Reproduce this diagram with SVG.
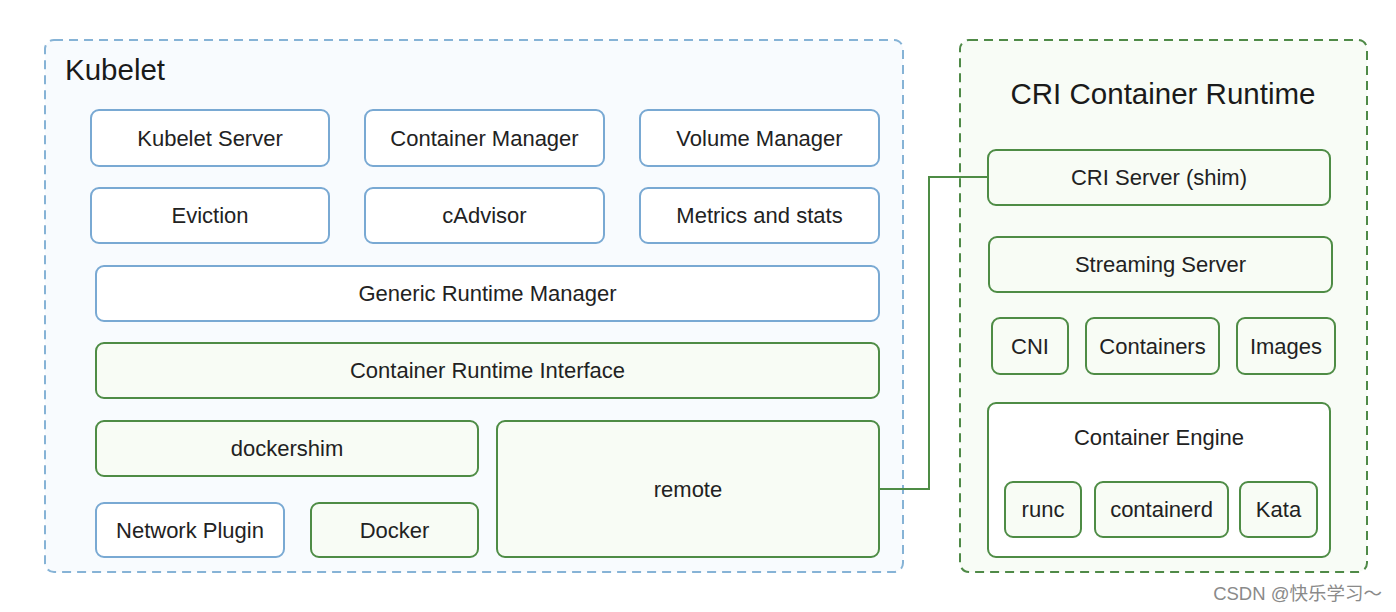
<svg xmlns="http://www.w3.org/2000/svg" width="1396" height="612" viewBox="0 0 1396 612">
<style>
.outer-b{fill:#f8fbfe;stroke:#86b3d6;stroke-width:2;stroke-dasharray:9 6}
.outer-g{fill:#f8fcf6;stroke:#4f8a47;stroke-width:2;stroke-dasharray:9 6}
.nb{fill:#ffffff;stroke:#79a9d3;stroke-width:2}
.ng{fill:#f8fcf5;stroke:#4e8c45;stroke-width:2}
.lbl{font-family:"Liberation Sans",Arial,sans-serif;font-size:22px;fill:#222;text-anchor:middle;dominant-baseline:central}
.title{font-family:"Liberation Sans",Arial,sans-serif;font-size:29.5px;fill:#1a1a1a}
.conn{fill:none;stroke:#4e8c45;stroke-width:2}
</style>
<rect width="1396" height="612" fill="#ffffff"/>
<g id="kubelet">
<rect class="outer-b" x="45" y="40" width="858" height="532" rx="9"/>
<text class="title" x="65" y="80">Kubelet</text>
</g>
<g id="cri-runtime">
<rect class="outer-g" x="960" y="40" width="407" height="532" rx="9"/>
<text class="title" x="1163" y="104" text-anchor="middle">CRI Container Runtime</text>
</g>
<g id="kubelet-server"><rect class="nb" x="91" y="110" width="238" height="56" rx="8"/><text class="lbl" x="210" y="138">Kubelet Server</text></g>
<g id="container-manager"><rect class="nb" x="365" y="110" width="239" height="56" rx="8"/><text class="lbl" x="484.5" y="138">Container Manager</text></g>
<g id="volume-manager"><rect class="nb" x="640" y="110" width="239" height="56" rx="8"/><text class="lbl" x="759.5" y="138">Volume Manager</text></g>
<g id="eviction"><rect class="nb" x="91" y="188" width="238" height="55" rx="8"/><text class="lbl" x="210" y="215.5">Eviction</text></g>
<g id="cadvisor"><rect class="nb" x="365" y="188" width="239" height="55" rx="8"/><text class="lbl" x="484.5" y="215.5">cAdvisor</text></g>
<g id="metrics"><rect class="nb" x="640" y="188" width="239" height="55" rx="8"/><text class="lbl" x="759.5" y="215.5">Metrics and stats</text></g>
<g id="generic-runtime-manager"><rect class="nb" x="96" y="266" width="783" height="55" rx="8"/><text class="lbl" x="487.5" y="293.5">Generic Runtime Manager</text></g>
<g id="cri"><rect class="ng" x="96" y="343" width="783" height="55" rx="8"/><text class="lbl" x="487.5" y="370.5">Container Runtime Interface</text></g>
<g id="dockershim"><rect class="ng" x="96" y="421" width="382" height="55" rx="8"/><text class="lbl" x="287" y="448.5">dockershim</text></g>
<g id="remote"><rect class="ng" x="497" y="421" width="382" height="136" rx="8"/><text class="lbl" x="688" y="489">remote</text></g>
<g id="network-plugin"><rect class="nb" x="96" y="503" width="188" height="54" rx="8"/><text class="lbl" x="190" y="530">Network Plugin</text></g>
<g id="docker"><rect class="ng" x="311" y="503" width="167" height="54" rx="8"/><text class="lbl" x="394.5" y="530">Docker</text></g>
<g id="cri-server"><rect class="ng" x="988" y="150" width="342" height="55" rx="8"/><text class="lbl" x="1159" y="177.5">CRI Server (shim)</text></g>
<g id="streaming-server"><rect class="ng" x="989" y="237" width="343" height="55" rx="8"/><text class="lbl" x="1160.5" y="264.5">Streaming Server</text></g>
<g id="cni"><rect class="ng" x="992" y="318" width="76" height="56" rx="8"/><text class="lbl" x="1030" y="346">CNI</text></g>
<g id="containers"><rect class="ng" x="1086" y="318" width="133" height="56" rx="8"/><text class="lbl" x="1152.5" y="346">Containers</text></g>
<g id="images"><rect class="ng" x="1237" y="318" width="98" height="56" rx="8"/><text class="lbl" x="1286" y="346">Images</text></g>
<g id="container-engine"><rect class="ng" x="988" y="403" width="342" height="154" rx="8" style="fill:#ffffff"/><text class="lbl" x="1159" y="437">Container Engine</text></g>
<g id="runc"><rect class="ng" x="1005" y="482" width="76" height="55" rx="8"/><text class="lbl" x="1043" y="509.5">runc</text></g>
<g id="containerd"><rect class="ng" x="1095" y="482" width="133" height="55" rx="8"/><text class="lbl" x="1161.5" y="509.5">containerd</text></g>
<g id="kata"><rect class="ng" x="1240" y="482" width="77" height="55" rx="8"/><text class="lbl" x="1278.5" y="509.5">Kata</text></g>
<g id="connectors">
<polyline class="conn" points="879,489 929,489 929,177 988,177"/>
</g>
<text x="1382" y="600" text-anchor="end" font-family="'Liberation Sans','Noto Sans CJK SC',sans-serif" font-size="18.5" fill="#8a8a8a">CSDN @快乐学习～</text>
</svg>
